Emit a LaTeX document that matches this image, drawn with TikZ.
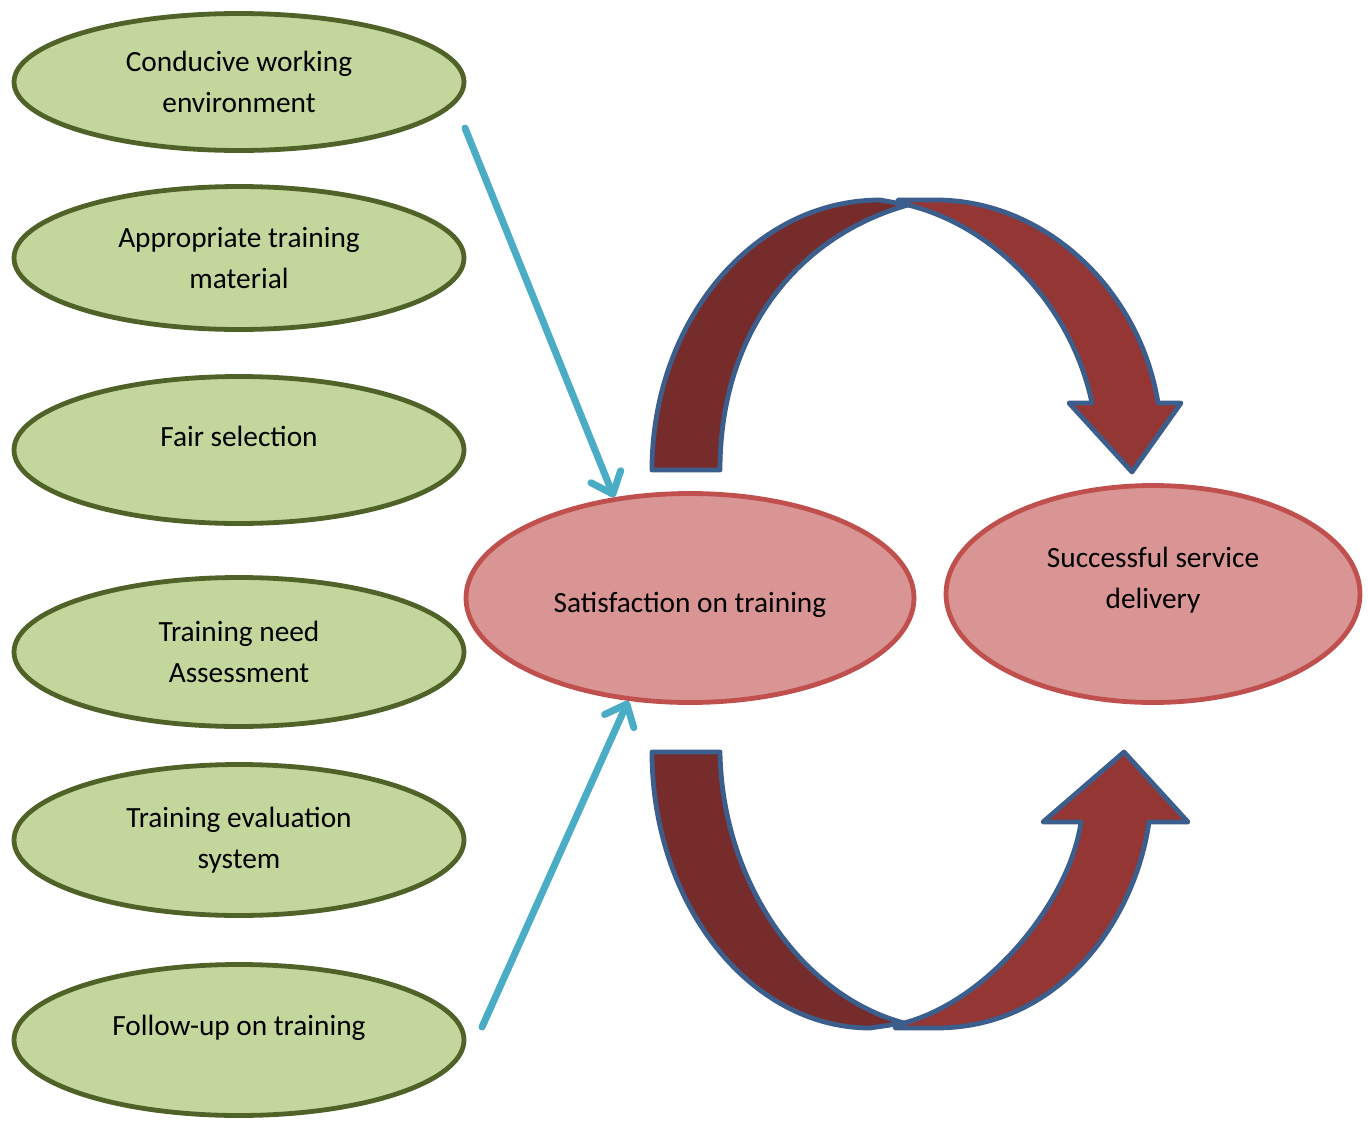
\documentclass[tikz,border=0pt]{standalone}
\usepackage{fontspec}
\setmainfont{Carlito}
\usetikzlibrary{shapes.geometric,arrows.meta}
\definecolor{gfill}{HTML}{C3D69B}
\definecolor{gline}{HTML}{4F6228}
\definecolor{pfill}{HTML}{D99594}
\definecolor{pline}{HTML}{C0504D}
\definecolor{barrow}{HTML}{4BACC6}
\definecolor{cdark}{HTML}{772C2C}
\definecolor{clight}{HTML}{943634}
\definecolor{cedge}{HTML}{3B5E8C}
\begin{document}
\begin{tikzpicture}[x=0.75pt,y=-0.75pt,
  txtstyle/.style={font=\fontsize{22pt}{30.75pt}\selectfont, align=center, text=black},
  gell/.style={ellipse, draw=gline, fill=gfill, line width=3.6pt, inner sep=0pt,
    minimum width=337.5pt, txtstyle},
  pell/.style={ellipse, draw=pline, fill=pfill, line width=3.6pt, inner sep=0pt, txtstyle},
  blarrow/.style={draw=barrow, line width=5.25pt, line cap=round,
    -{Straight Barb[length=14pt,width=24pt,round]}},
  bandd/.style={fill=cdark, draw=cedge, line width=3.6pt, line join=round},
  bandl/.style={fill=clight, draw=cedge, line width=3.6pt, line join=round}]
\useasboundingbox (0,0) rectangle (1368,1121);

% left green ellipses
\node[gell, minimum height=102.75pt] (e1) at (239,82) {Conducive working\\environment};
\node[gell, minimum height=107.25pt] (e2) at (239,258) {Appropriate training\\material};
\node[gell, minimum height=110.25pt] (e3) at (239,450) {};
\node[txtstyle] (t3) at (239,436) {Fair selection};
\node[gell, minimum height=111.75pt] (e4) at (239,652) {Training need\\Assessment};
\node[gell, minimum height=113.25pt] (e5) at (239,840) {Training evaluation\\system};
\node[gell, minimum height=113.25pt] (e6) at (239,1040) {};
\node[txtstyle] (t6) at (239,1028) {Follow-up on training};

% pink ellipses
\node[pell, minimum width=336pt, minimum height=156.75pt] (sat) at (690,598) {};
\node[txtstyle] (tsat) at (690,605) {Satisfaction on training};
\node[pell, minimum width=310.5pt, minimum height=162.75pt] (succ) at (1153,594) {};
\node[txtstyle] (tsucc) at (1153,580) {Successful service\\delivery};

% blue arrows
\coordinate (a1) at (465,128);
\coordinate (a2) at (482,1027);
\draw[blarrow] (a1) -- (sat.127);
\draw[blarrow] (a2) -- (sat.239.5);

% top curved arrow
\draw[bandd] (652,470) -- (720,470) .. controls (720,330) and (800,235) .. (908,205)
  -- (880,200) .. controls (754,200) and (652,321) .. (652,470) -- cycle;
\draw[bandl] (908,205) .. controls (990,225) and (1070,300) .. (1092,403)
  -- (1069,403) -- (1132,472) -- (1181,403) -- (1158,403)
  .. controls (1140,290) and (1045,200) .. (936,200) -- (898,200) -- cycle;

% bottom curved arrow
\draw[bandd] (652,752) -- (720,752) .. controls (722,880) and (800,995) .. (904,1023)
  -- (870,1028) .. controls (750,1028) and (652,904) .. (652,752) -- cycle;
\draw[bandl] (904,1023) .. controls (990,1000) and (1070,900) .. (1081,822)
  -- (1043,822) -- (1124,752) -- (1188,822) -- (1149,822)
  .. controls (1135,920) and (1060,1028) .. (936,1028) -- (895,1028) -- cycle;
\end{tikzpicture}
\end{document}
